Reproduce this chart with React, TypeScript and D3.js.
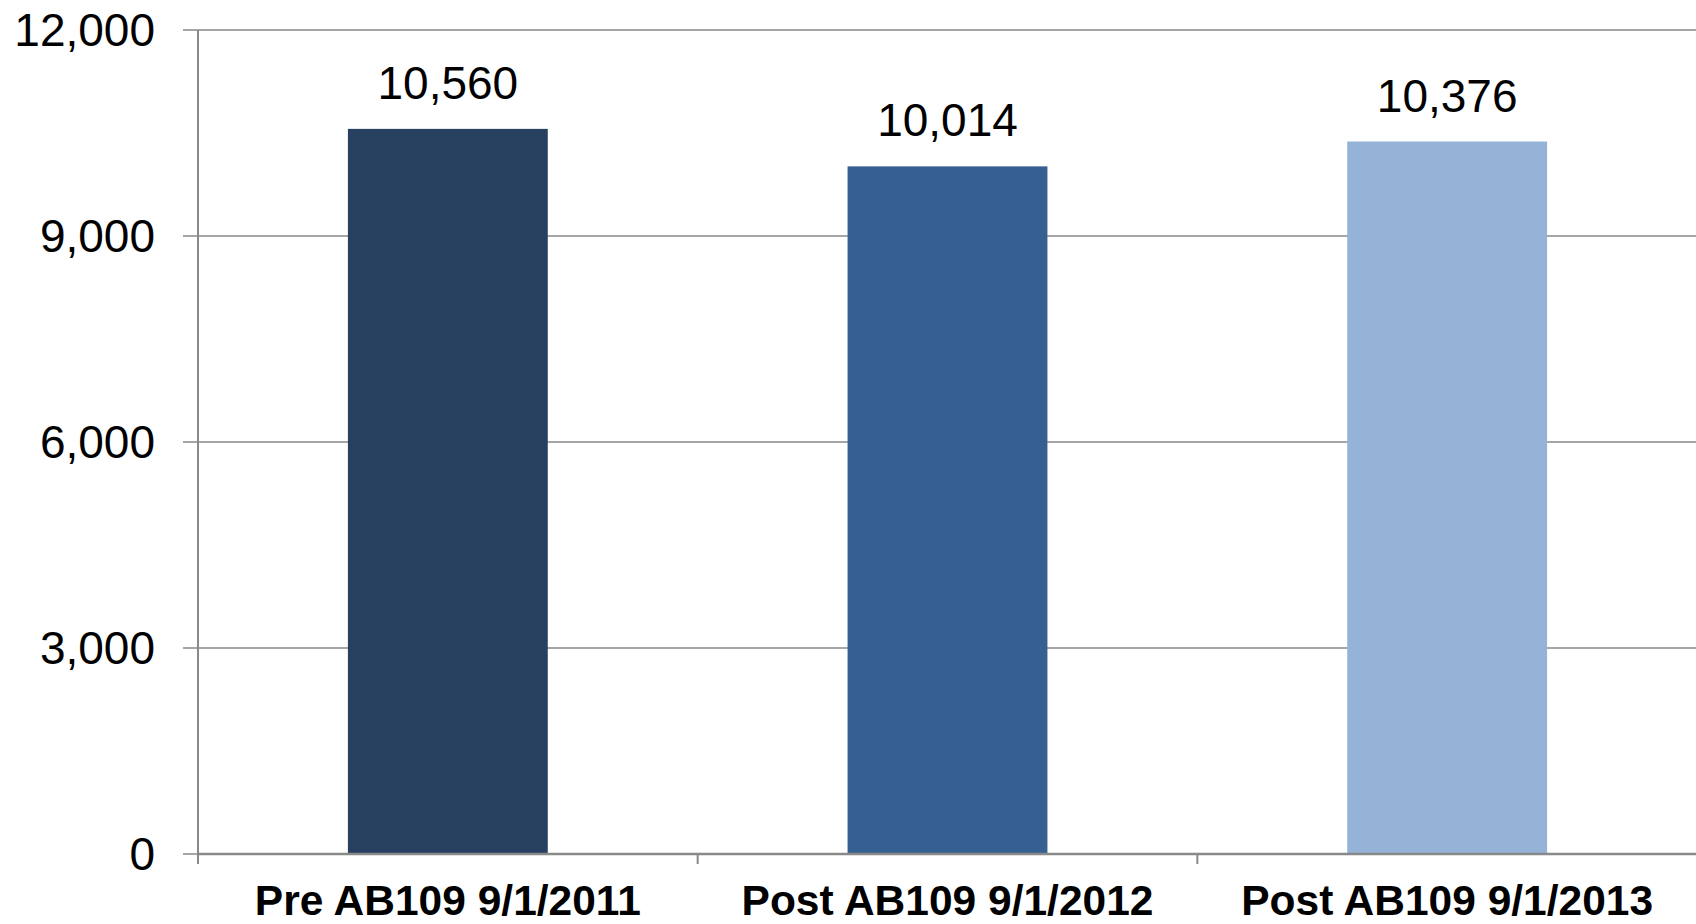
import React from "react";
import * as d3 from "d3";

const categories = ["Pre AB109 9/1/2011", "Post AB109 9/1/2012", "Post AB109 9/1/2013"];
const values = [10560, 10014, 10376];
const barColors = ["#274060", "#376092", "#95B3D7"];
const yTicks = [0, 3000, 6000, 9000, 12000];

const W = 1696;
const H = 924;
const left = 198;
const right = 1697;
const top = 30;
const bottom = 854;

export default function App() {
  const x = d3.scaleBand<string>().domain(categories).range([left, right]).paddingInner(0.6).paddingOuter(0.3);
  const band = d3.scaleBand<string>().domain(categories).range([left, right]);
  const y = d3.scaleLinear().domain([0, 12000]).range([bottom, top]);
  const fmt = d3.format(",");
  const font = "Liberation Sans, Arial, sans-serif";
  const grid = "#898989";

  return (
    <svg width={W} height={H} style={{ position: "fixed", left: 0, top: 0, background: "#fff" }}>
      {yTicks.map((t) => (
        <g key={t}>
          {t > 0 && <line x1={left} x2={right} y1={y(t)} y2={y(t)} stroke={grid} strokeWidth={1.5} />}
          <line x1={left - 15} x2={left} y1={y(t)} y2={y(t)} stroke={grid} strokeWidth={1.5} />
          <text x={155} y={y(t)} dy="0.35em" textAnchor="end" fontFamily={font} fontSize={46} fill="#000">
            {fmt(t)}
          </text>
        </g>
      ))}
      {categories.map((c, i) => (
        <g key={c}>
          <rect x={x(c)} y={y(values[i])} width={x.bandwidth()} height={bottom - y(values[i])} fill={barColors[i]} />
          <text
            x={(x(c) as number) + x.bandwidth() / 2}
            y={y(values[i]) - 30}
            textAnchor="middle"
            fontFamily={font}
            fontSize={46}
            fill="#000"
          >
            {fmt(values[i])}
          </text>
          <text
            x={(band(c) as number) + band.bandwidth() / 2}
            y={915}
            textAnchor="middle"
            fontFamily={font}
            fontSize={42.5}
            fontWeight="bold"
            fill="#000"
          >
            {c}
          </text>
        </g>
      ))}
      {[...categories.map((c) => band(c) as number), right].map((px, i) => (
        <line key={i} x1={px} x2={px} y1={bottom} y2={bottom + 10} stroke={grid} strokeWidth={2} />
      ))}
      <line x1={left} x2={left} y1={top} y2={bottom} stroke={grid} strokeWidth={2} />
      <line x1={left} x2={right} y1={bottom} y2={bottom} stroke={grid} strokeWidth={2.5} />
    </svg>
  );
}
